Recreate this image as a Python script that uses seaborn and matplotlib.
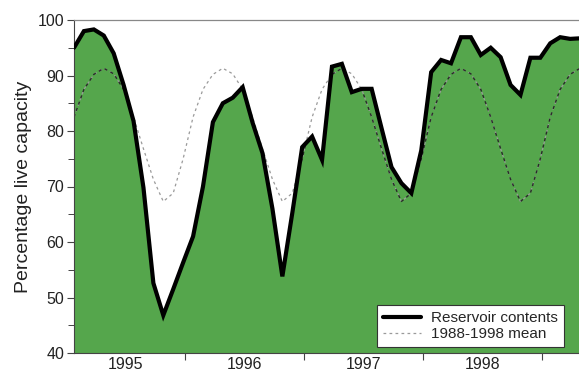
import numpy as np
import matplotlib
matplotlib.use("Agg")
import matplotlib.pyplot as plt
from matplotlib.ticker import FixedLocator, NullFormatter, FixedFormatter
import seaborn as sns

# Monthly reservoir stocks, Jan 1995 - Apr 1999 (% of live capacity)
reservoir = [95.0, 98.0, 98.3, 97.2, 94.0, 88.3, 81.8, 69.8, 52.6, 46.8, 51.5, 56.3,
             61.0, 70.0, 81.6, 85.0, 86.0, 87.9, 81.5, 76.0, 66.0, 53.8, 65.2, 77.1,
             79.0, 74.8, 91.6, 92.1, 87.0, 87.6, 87.6, 80.5, 73.5, 70.6, 68.8, 76.5,
             90.6, 92.8, 92.2, 96.9, 96.9, 93.7, 95.0, 93.3, 88.3, 86.5, 93.2, 93.2,
             95.8, 96.9, 96.6, 96.7]

# Long-term average for each calendar month (Jan..Dec), 1988-1998
monthly_mean = [82.5, 87.5, 90.2, 91.3, 90.3, 87.5, 82.5, 76.8, 71.3, 67.3, 68.8, 75.0]

years = [1995, 1996, 1997, 1998]
year_labels = ["1995", "1996", "1997", "1998"]
yticks = [40, 50, 60, 70, 80, 90, 100]

n = len(reservoir)
month_index = np.arange(n)
# readings are taken late in each month
x = 1995 + (month_index + 0.8) / 12.0
mean_series = np.resize(monthly_mean, n)

sns.set_theme(style="ticks")
plt.rcParams["font.family"] = ["Liberation Sans", "DejaVu Sans"]

GREEN = "#55a64c"
MEAN_DASH = (0, (2.2, 2.6))

fig = plt.figure(figsize=(5.79, 3.72), dpi=100)
ax = fig.add_axes([74 / 579, 19 / 372, 506 / 579, 333 / 372])

fill = ax.fill_between(x, reservoir, 40, color=GREEN, lw=0, zorder=1)

# long-term mean: light grey over the white area, darker where it crosses the fill
sns.lineplot(x=x, y=mean_series, ax=ax, color="#9a9a9a", lw=0.9,
             linestyle=MEAN_DASH, sort=False, label="1988-1998 mean", zorder=2)
inner = ax.plot(x, mean_series, color="#2a2a2a", lw=1.0, linestyle=MEAN_DASH,
                zorder=2.1)[0]
inner.set_clip_path(fill.get_paths()[0], ax.transData)

sns.lineplot(x=x, y=reservoir, ax=ax, color="black", lw=3.0, sort=False,
             label="Reservoir contents", solid_joinstyle="miter", zorder=3)

ax.set_xlim(x[0], x[-1])
ax.set_ylim(40, 100)

# y axis
ax.yaxis.set_major_locator(FixedLocator(yticks))
ax.yaxis.set_minor_locator(FixedLocator(np.arange(45, 100, 10)))
ax.tick_params(axis="y", which="major", length=5, width=0.8, color="#444444",
               direction="out", pad=2, labelsize=11.5, labelcolor="#222222")
ax.tick_params(axis="y", which="minor", length=4, width=0.7, color="#444444",
               direction="out")
ax.set_ylabel("Percentage live capacity", fontsize=14, color="#222222", labelpad=4)

# x axis: ticks at year boundaries, labels centred within each year
ax.xaxis.set_major_locator(FixedLocator([1996, 1997, 1998, 1999]))
ax.xaxis.set_major_formatter(NullFormatter())
ax.xaxis.set_minor_locator(FixedLocator([y + 0.5 for y in years]))
ax.xaxis.set_minor_formatter(FixedFormatter(year_labels))
ax.tick_params(axis="x", which="major", length=5, width=0.8, color="#444444",
               direction="out")
ax.tick_params(axis="x", which="minor", length=0, pad=3, labelsize=11.5,
               labelcolor="#222222")

for side in ("left", "bottom"):
    ax.spines[side].set_color("#444444")
    ax.spines[side].set_linewidth(0.8)
ax.spines["top"].set_color("#888888")
ax.spines["top"].set_linewidth(0.9)
ax.spines["right"].set_visible(False)

handles, labels = ax.get_legend_handles_labels()
order = [labels.index("Reservoir contents"), labels.index("1988-1998 mean")]
leg = ax.legend([handles[i] for i in order], [labels[i] for i in order],
                loc="lower right", bbox_to_anchor=(0.968, 0.018),
                frameon=True, fancybox=False, framealpha=1, edgecolor="#333333",
                fontsize=11, handlelength=2.5, handletextpad=0.65,
                borderpad=0.4, labelspacing=0.12, borderaxespad=0)
leg.get_frame().set_linewidth(0.8)

fig.savefig("out.png", dpi=100)
